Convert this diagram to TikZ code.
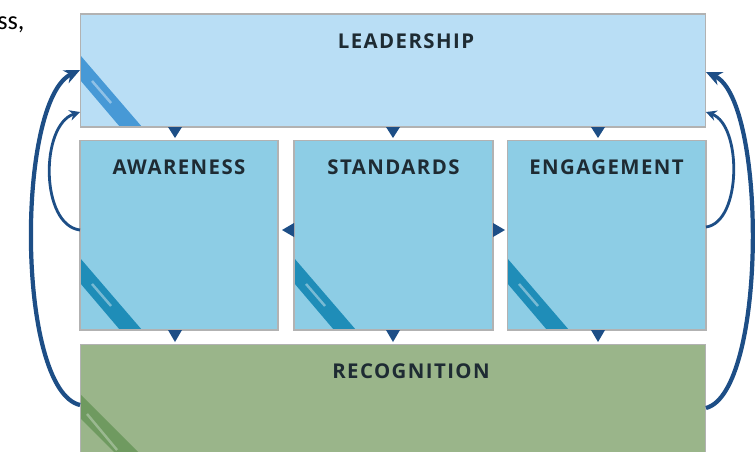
\documentclass[tikz,border=0pt]{standalone}
\usepackage{fontspec}
\setmainfont{Open Sans}
\newfontfamily\titlefont[LetterSpace=7]{Open Sans}
\newfontfamily\notefont{Carlito}
\usetikzlibrary{positioning,calc,arrows.meta}

\definecolor{leadfill}{HTML}{B9DEF5}
\definecolor{leadband}{HTML}{4799D6}
\definecolor{midfill}{HTML}{8DCDE5}
\definecolor{midband}{HTML}{1F8DB8}
\definecolor{recfill}{HTML}{9AB58A}
\definecolor{recband}{HTML}{6F9A60}
\definecolor{loopblue}{HTML}{1D4E86}
\definecolor{titletext}{HTML}{1E2B33}

\tikzset{
  box/.style={inner sep=0pt, outer sep=0pt},
  edge/.style={draw=gray!60, line width=0.6pt},
  title/.style={font=\titlefont\bfseries\fontsize{11.6}{14}\selectfont, text=titletext, inner sep=0pt},
  bigloop/.style={draw=loopblue, line width=2.4pt, -{Stealth[length=9pt,width=8pt]}},
  smallloop/.style={draw=loopblue, line width=1.6pt, -{Stealth[length=6pt,width=6pt]}},
}

\begin{document}
\begin{tikzpicture}[x=0.02cm,y=-0.02cm]
\useasboundingbox (0,0) rectangle (756,451);
\clip (0,0) rectangle (756,451);

% boxes
\node[box, fill=leadfill, minimum width=12.52cm, minimum height=2.26cm] (lead) at (393,70.5) {};
\node[box, fill=midfill, minimum width=3.96cm, minimum height=3.8cm] (aware) at (179,235) {};
\node[box, fill=midfill, minimum width=3.98cm, minimum height=3.8cm] (stand) at (393.5,235) {};
\node[box, fill=midfill, minimum width=3.98cm, minimum height=3.8cm] (engage) at (606.5,235) {};
\node[box, fill=recfill, minimum width=12.52cm, minimum height=2.8cm] (recog) at (393,414) {};

% corner bands
\foreach \b/\c in {lead/leadband, aware/midband, stand/midband, engage/midband} {
  \begin{scope}
    \clip (\b.south west) rectangle (\b.north east);
    \fill[\c] ($(\b.south west)+(0,-72)$) -- ($(\b.south west)+(62,0)$)
      -- ($(\b.south west)+(40,0)$) -- ($(\b.south west)+(0,-47)$) -- cycle;
    \draw[white, line width=1.4pt, opacity=.4] ($(\b.south west)+(12,-46)$) -- ($(\b.south west)+(31,-24)$);
  \end{scope}
  \draw[edge] (\b.south west) rectangle (\b.north east);
}
\begin{scope}
  \clip (recog.south west) rectangle (recog.north east);
  \fill[recband] ($(recog.north west)+(0,50)$) -- ($(recog.north west)+(90,140)$)
    -- ($(recog.north west)+(90,164)$) -- ($(recog.north west)+(0,74)$) -- cycle;
  \draw[white, line width=1.4pt, opacity=.3] ($(recog.north west)+(7,70)$) -- ($(recog.north west)+(37,106)$);
\end{scope}
\draw[edge] (recog.south west) rectangle (recog.north east);

% titles
\node[title, below=0.39cm of lead.north, xshift=0.26cm] (leadtxt) {LEADERSHIP};
\node[title, below=0.39cm of aware.north] (awaretxt) {AWARENESS};
\node[title, below=0.39cm of stand.north] (standtxt) {STANDARDS};
\node[title, below=0.39cm of engage.north] (engagetxt) {ENGAGEMENT};
\node[title, below=0.39cm of recog.north, xshift=0.36cm] (recogtxt) {RECOGNITION};

% small pointers between boxes
\foreach \x in {175,393,598} {
  \fill[loopblue] (\x-7,127) -- (\x+7,127) -- (\x,138) -- cycle;
  \fill[loopblue] (\x-7,330) -- (\x+7,330) -- (\x,342) -- cycle;
}
\fill[loopblue] (294,223) -- (294,237) -- (282,230) -- cycle;
\fill[loopblue] (493,223) -- (493,237) -- (505,230) -- cycle;

% loop connectors
\coordinate (leadLo) at ($(lead.north west)+(0,56)$);
\coordinate (leadLi) at ($(lead.north west)+(0,98)$);
\coordinate (leadRo) at ($(lead.north east)+(0,58)$);
\coordinate (leadRi) at ($(lead.north east)+(0,98)$);
\coordinate (awareL) at ($(aware.north west)+(0,90)$);
\coordinate (engageR) at ($(engage.north east)+(0,87)$);
\coordinate (recogL) at ($(recog.north west)+(0,61)$);
\coordinate (recogR) at ($(recog.north east)+(0,64)$);

\draw[bigloop] (recogL) .. controls +(-64,-15) and +(-64,30) .. (leadLo);
\draw[smallloop] (awareL) .. controls +(-40,-5) and +(-40,13) .. (leadLi);
\draw[bigloop] (recogR) .. controls +(61,-16) and +(61,28) .. (leadRo);
\draw[smallloop] (engageR) .. controls +(36,-5) and +(36,13) .. (leadRi);

% cut-off text
\node[font=\notefont\fontsize{15}{17}\selectfont, anchor=base west, inner sep=0pt] (frag) at (-3,29) {ss,};
\end{tikzpicture}
\end{document}
